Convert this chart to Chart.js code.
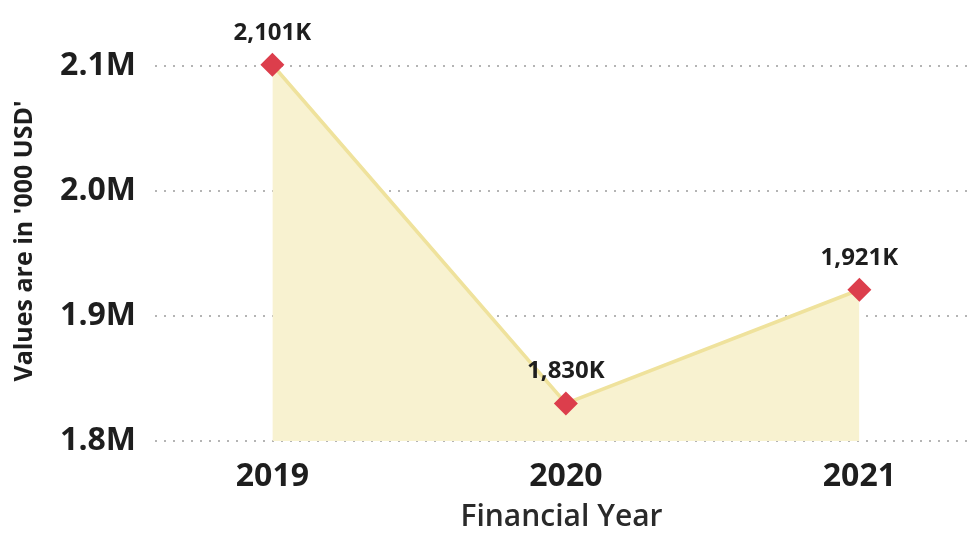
<!DOCTYPE html>
<html>
<head>
<meta charset="utf-8">
<script src="https://cdn.jsdelivr.net/npm/chart.js@4.4.1/dist/chart.umd.min.js"></script>
<style>
  html, body { margin: 0; padding: 0; background: #fff; overflow: hidden; }
  #wrap { width: 980px; height: 539px; position: relative; }
</style>
</head>
<body>
<div id="wrap"><canvas id="revenueChart"></canvas></div>
<script>
const years = ['2019', '2020', '2021'];
const revenue = [2101000, 1830000, 1921000];
const yTicks = [1800000, 1900000, 2000000, 2100000];

const textColor = '#1e1e1e';
const fontFamily = "'Open Sans', sans-serif";

// value labels above each point, e.g. "2,101K"
const pointLabels = {
    id: 'pointLabels',
    afterDatasetsDraw(chart) {
        const ctx = chart.ctx;
        const meta = chart.getDatasetMeta(0);
        ctx.save();
        ctx.font = `bold 24px ${fontFamily}`;
        ctx.fillStyle = textColor;
        ctx.textAlign = 'center';
        ctx.textBaseline = 'bottom';
        meta.data.forEach((pt, i) => {
            const k = Math.round(revenue[i] / 1000).toLocaleString('en-US') + 'K';
            ctx.fillText(k, pt.x, pt.y - 20);
        });
        ctx.restore();
    }
};

new Chart(document.getElementById('revenueChart'), {
    type: 'line',
    data: {
        datasets: [{
            data: revenue.map((v, i) => ({ x: i, y: v })),
            borderColor: '#efe29c',
            borderWidth: 3.5,
            backgroundColor: '#f8f2d0',
            fill: 'start',
            tension: 0,
            pointStyle: 'rectRot',
            pointRadius: 12,
            pointHoverRadius: 12,
            pointBackgroundColor: '#dc3e4c',
            pointBorderColor: '#dc3e4c',
            pointBorderWidth: 0
        }]
    },
    options: {
        responsive: true,
        maintainAspectRatio: false,
        animation: false,
        layout: { padding: { top: 41, right: 4, left: 0, bottom: 0 } },
        plugins: {
            legend: { display: false },
            tooltip: { enabled: false }
        },
        scales: {
            x: {
                type: 'linear',
                min: -0.4,
                max: 2.37,
                afterFit(scale) {
                    scale.height = 98;
                    scale.paddingLeft = 0;
                    scale.paddingRight = 0;
                },
                afterBuildTicks(scale) {
                    scale.ticks = years.map((y, i) => ({ value: i }));
                },
                ticks: {
                    color: textColor,
                    font: { family: fontFamily, size: 32, weight: 'bold' },
                    padding: 9,
                    callback: (v) => years[v]
                },
                grid: { display: false },
                border: { display: false },
                title: {
                    display: true,
                    text: 'Financial Year',
                    color: '#2a2a2a',
                    font: { family: fontFamily, size: 30, weight: '600' },
                    padding: { top: 0, bottom: 4 }
                }
            },
            y: {
                min: 1800000,
                max: 2120000,
                afterFit(scale) { scale.width = 155; },
                afterBuildTicks(scale) {
                    scale.ticks = yTicks.map(v => ({ value: v }));
                },
                ticks: {
                    color: textColor,
                    font: { family: fontFamily, size: 32, weight: 'bold' },
                    padding: 19,
                    callback: (v) => (v / 1000000).toFixed(1) + 'M'
                },
                grid: {
                    color: '#b4b4b4',
                    lineWidth: 2,
                    drawTicks: false
                },
                border: { display: false, dash: [2, 7] },
                title: {
                    display: true,
                    text: "Values are in '000 USD'",
                    color: textColor,
                    font: { family: fontFamily, size: 25, weight: 'bold' },
                    padding: { top: 10, bottom: 0 }
                }
            }
        }
    },
    plugins: [pointLabels]
});
</script>
</body>
</html>
